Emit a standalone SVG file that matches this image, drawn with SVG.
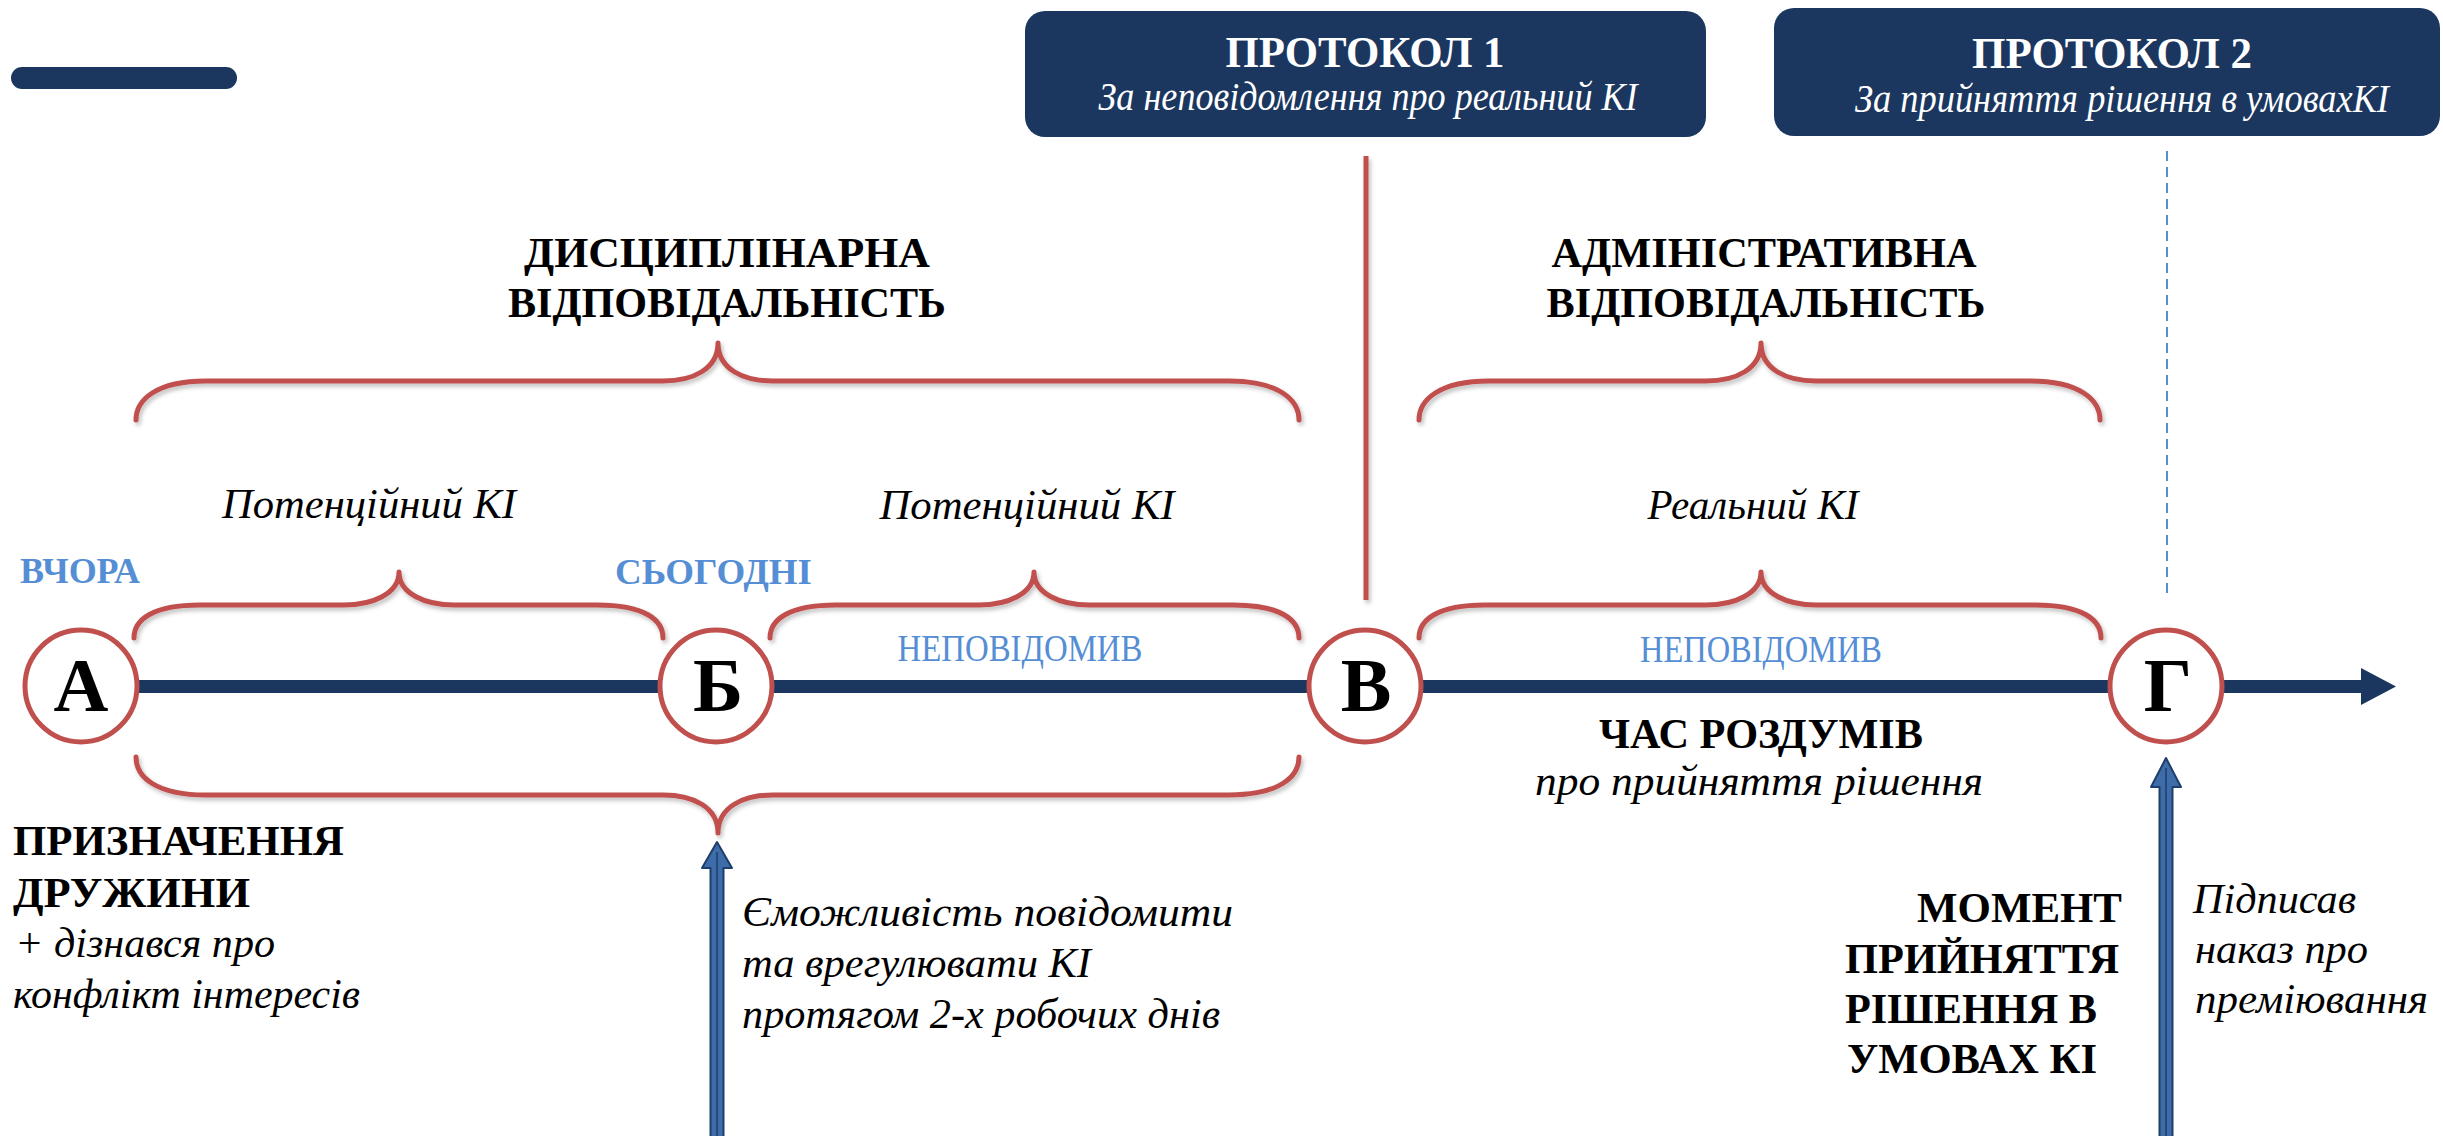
<svg xmlns="http://www.w3.org/2000/svg" width="2443" height="1136" viewBox="0 0 2443 1136">
<defs>
<style>
.bg{fill:#ffffff}
.box{fill:#1B375F}
.pill{fill:#1B375F}
.bar{fill:#1B375F}
.brace{fill:none;stroke:#C0504D;stroke-width:5;stroke-linecap:round;stroke-linejoin:round}
.node{fill:#ffffff;stroke:#C0504D;stroke-width:5}
.letter{font-family:"Liberation Serif","Times New Roman",serif;font-weight:bold;font-size:76px;fill:#000;text-anchor:middle}
.wt{font-family:"Liberation Serif","Times New Roman",serif;font-weight:bold;font-size:45px;fill:#fff;text-anchor:middle}
.wi{font-family:"Liberation Serif","Times New Roman",serif;font-style:italic;font-size:39px;fill:#fff;text-anchor:middle}
.b{font-family:"Liberation Serif","Times New Roman",serif;font-weight:bold;font-size:42px;fill:#000}
.i{font-family:"Liberation Serif","Times New Roman",serif;font-style:italic;font-size:42px;fill:#000}
.bl{font-family:"Liberation Serif","Times New Roman",serif;font-weight:bold;font-size:36px;fill:#558ED5}
.bn{font-family:"Liberation Serif","Times New Roman",serif;font-size:38px;fill:#558ED5;text-anchor:middle}
.mid{text-anchor:middle}
.uparrow{fill:#3D6CA8;stroke:#1E3E6C;stroke-width:2;stroke-linejoin:round}
.core{stroke:#1E3E6C;stroke-width:1.5}
</style>
<filter id="sh" filterUnits="userSpaceOnUse" x="0" y="0" width="2443" height="1136">
<feDropShadow dx="2" dy="3" stdDeviation="2" flood-color="#000" flood-opacity="0.25"/>
</filter>
</defs>
<rect class="bg" x="0" y="0" width="2443" height="1136"/>
<rect class="pill" x="11" y="67" width="226" height="22" rx="11"/>

<g id="protocol1">
<rect class="box" x="1025" y="11" width="681" height="126" rx="20"/>
<text class="wt" x="1365" y="67" textLength="279" lengthAdjust="spacingAndGlyphs">ПРОТОКОЛ 1</text>
<text class="wi" x="1368" y="110" textLength="539" lengthAdjust="spacingAndGlyphs">За неповідомлення про реальний КІ</text>
</g>
<g id="protocol2">
<rect class="box" x="1774" y="8" width="666" height="128" rx="20"/>
<text class="wt" x="2112" y="68" textLength="280" lengthAdjust="spacingAndGlyphs">ПРОТОКОЛ 2</text>
<text class="wi" x="2122" y="112" textLength="534" lengthAdjust="spacingAndGlyphs">За прийняття рішення в умовахКІ</text>
</g>

<g id="titles">
<text class="b mid" x="727" y="267" textLength="406" lengthAdjust="spacingAndGlyphs">ДИСЦИПЛІНАРНА</text>
<text class="b mid" x="727" y="317" textLength="438" lengthAdjust="spacingAndGlyphs">ВІДПОВІДАЛЬНІСТЬ</text>
<text class="b mid" x="1764" y="267" textLength="425" lengthAdjust="spacingAndGlyphs">АДМІНІСТРАТИВНА</text>
<text class="b mid" x="1766" y="317" textLength="439" lengthAdjust="spacingAndGlyphs">ВІДПОВІДАЛЬНІСТЬ</text>
<text class="i mid" x="369" y="518" textLength="294" lengthAdjust="spacingAndGlyphs">Потенційний КІ</text>
<text class="i mid" x="1027" y="519" textLength="295" lengthAdjust="spacingAndGlyphs">Потенційний КІ</text>
<text class="i mid" x="1753" y="519" textLength="211" lengthAdjust="spacingAndGlyphs">Реальний КІ</text>
<text class="bl" x="20" y="583" textLength="120" lengthAdjust="spacingAndGlyphs">ВЧОРА</text>
<text class="bl" x="615" y="584" textLength="197" lengthAdjust="spacingAndGlyphs">СЬОГОДНІ</text>
<text class="bn" x="1020" y="661" textLength="245" lengthAdjust="spacingAndGlyphs">НЕПОВІДОМИВ</text>
<text class="bn" x="1761" y="662" textLength="242" lengthAdjust="spacingAndGlyphs">НЕПОВІДОМИВ</text>
<text class="b mid" x="1761" y="748" textLength="324" lengthAdjust="spacingAndGlyphs">ЧАС РОЗДУМІВ</text>
<text class="i mid" x="1759" y="795" textLength="448" lengthAdjust="spacingAndGlyphs">про прийняття рішення</text>
</g>

<g id="braces" filter="url(#sh)">
<path class="brace" d="M136,420 C136,400 156,381 206,381 L663,381 C693,381 718,369 718,343 C718,369 743,381 773,381 L1229,381 C1279,381 1299,400 1299,420"/>
<path class="brace" d="M1419,420 C1419,400 1439,381 1489,381 L1706,381 C1736,381 1761,369 1761,343 C1761,369 1786,381 1816,381 L2030,381 C2080,381 2100,400 2100,420"/>
<path class="brace" d="M134,638 C134,620 152,605 200,605 L344,605 C372,605 399,594 399,572 C399,594 426,605 454,605 L597,605 C645,605 663,620 663,638"/>
<path class="brace" d="M770,638 C770,620 788,605 836,605 L979,605 C1007,605 1034,594 1034,572 C1034,594 1061,605 1089,605 L1233,605 C1281,605 1299,620 1299,638"/>
<path class="brace" d="M1419,638 C1419,620 1437,605 1485,605 L1706,605 C1734,605 1761,594 1761,572 C1761,594 1788,605 1816,605 L2035,605 C2083,605 2101,620 2101,638"/>
<path class="brace" d="M136,757 C136,777 156,795 206,795 L663,795 C693,795 718,807 718,833 C718,807 743,795 773,795 L1229,795 C1279,795 1299,777 1299,757"/>
</g>

<g id="connectors">
<line x1="1366" y1="156" x2="1366" y2="600" stroke="#C0504D" stroke-width="5" filter="url(#sh)"/>
<line x1="2167" y1="151" x2="2167" y2="597" stroke="#558ED5" stroke-width="2" stroke-dasharray="10 6"/>
<rect class="bar" x="81" y="680" width="2282" height="13"/>
<polygon class="bar" points="2361,668 2396,686.5 2361,705"/>
<path class="uparrow" d="M717,842 L732,868 L723.5,868 L723.5,1140 L710.5,1140 L710.5,868 L702,868 Z"/>
<line class="core" x1="717" y1="852" x2="717" y2="1140"/>
<path class="uparrow" d="M2166,758 L2181,787 L2172.5,787 L2172.5,1140 L2159.5,1140 L2159.5,787 L2151,787 Z"/>
<line class="core" x1="2166" y1="768" x2="2166" y2="1140"/>
</g>

<g id="node-A">
<circle class="node" cx="81" cy="686" r="56"/>
<text class="letter" x="81" y="711">А</text>
</g>
<g id="node-B">
<circle class="node" cx="716" cy="686" r="56"/>
<text class="letter" x="718" y="711">Б</text>
</g>
<g id="node-V">
<circle class="node" cx="1365" cy="686" r="56"/>
<text class="letter" x="1366" y="711">В</text>
</g>
<g id="node-G">
<circle class="node" cx="2166" cy="686" r="56"/>
<text class="letter" x="2168" y="711">Г</text>
</g>

<g id="label-A">
<text class="b" x="13" y="855" textLength="331" lengthAdjust="spacingAndGlyphs">ПРИЗНАЧЕННЯ</text>
<text class="b" x="13" y="907" textLength="237" lengthAdjust="spacingAndGlyphs">ДРУЖИНИ</text>
<text class="i" x="15" y="957" textLength="260" lengthAdjust="spacingAndGlyphs">+ дізнався про</text>
<text class="i" x="13" y="1008" textLength="347" lengthAdjust="spacingAndGlyphs">конфлікт інтересів</text>
</g>
<g id="label-B">
<text class="i" x="742" y="926" textLength="491" lengthAdjust="spacingAndGlyphs">Єможливість повідомити</text>
<text class="i" x="742" y="977" textLength="349" lengthAdjust="spacingAndGlyphs">та врегулювати КІ</text>
<text class="i" x="742" y="1028" textLength="478" lengthAdjust="spacingAndGlyphs">протягом 2-х робочих днів</text>
</g>
<g id="label-G">
<text class="b" x="1917" y="922" textLength="205" lengthAdjust="spacingAndGlyphs">МОМЕНТ</text>
<text class="b" x="1845" y="973" textLength="274" lengthAdjust="spacingAndGlyphs">ПРИЙНЯТТЯ</text>
<text class="b" x="1845" y="1023" textLength="252" lengthAdjust="spacingAndGlyphs">РІШЕННЯ В</text>
<text class="b" x="1847" y="1073" textLength="250" lengthAdjust="spacingAndGlyphs">УМОВАХ КІ</text>
<text class="i" x="2193" y="913" textLength="163" lengthAdjust="spacingAndGlyphs">Підписав</text>
<text class="i" x="2195" y="963" textLength="173" lengthAdjust="spacingAndGlyphs">наказ про</text>
<text class="i" x="2195" y="1013" textLength="233" lengthAdjust="spacingAndGlyphs">преміювання</text>
</g>
</svg>
